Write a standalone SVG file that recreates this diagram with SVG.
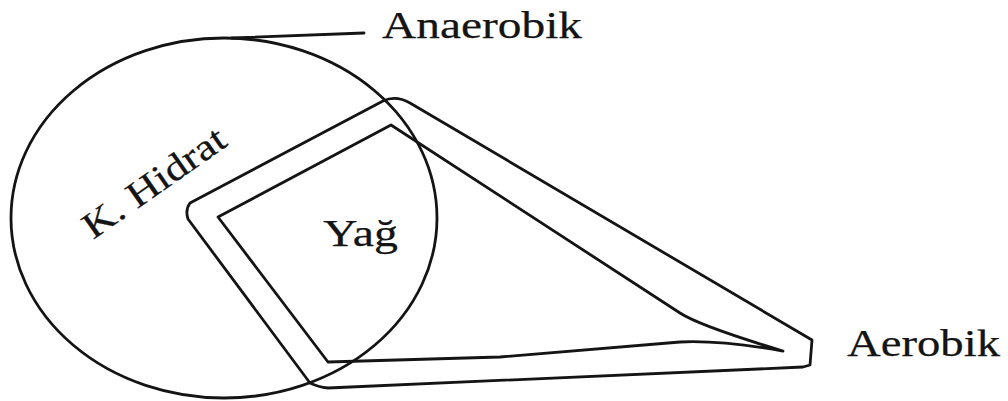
<svg xmlns="http://www.w3.org/2000/svg" width="1008" height="401" viewBox="0 0 1008 401">
<style>
.ln{fill:none;stroke:#141414;stroke-width:2.8;stroke-linejoin:round;stroke-linecap:round}
.tx{font-family:"Liberation Serif","Times New Roman",serif;font-size:37px;fill:#141414;stroke:#141414;stroke-width:0.25}
</style>
<rect width="1008" height="401" fill="#ffffff"/>
<g id="anaerobik-circle">
<ellipse class="ln" cx="224" cy="218" rx="213" ry="180"/>
</g>
<g id="aerobik-outer">
<path class="ln" d="M190,203 L383,101 Q396,95 410,103 L812,340 L810,365 L803,367 L328,388 Q318,387 310,383 L188,219 Q185,210 190,203 Z"/>
</g>
<g id="yag-inner">
<path class="ln" d="M218,217 L391,125 L680,313 Q700,326 783,351 Q720,340 680,342 L500,357 L328,362 Z"/>
</g>
<g id="connectors">
<path class="ln" d="M232,38 L364,33"/>
</g>
<g id="labels">
<text class="tx" x="382" y="38" textLength="200" lengthAdjust="spacingAndGlyphs">Anaerobik</text>
<text class="tx" x="847" y="356" textLength="153" lengthAdjust="spacingAndGlyphs">Aerobik</text>
<text class="tx" x="323" y="246" textLength="75" lengthAdjust="spacingAndGlyphs">Yağ</text>
<text class="tx" transform="translate(93,240) rotate(-35)" textLength="166" lengthAdjust="spacingAndGlyphs">K. Hidrat</text>
</g>
</svg>
